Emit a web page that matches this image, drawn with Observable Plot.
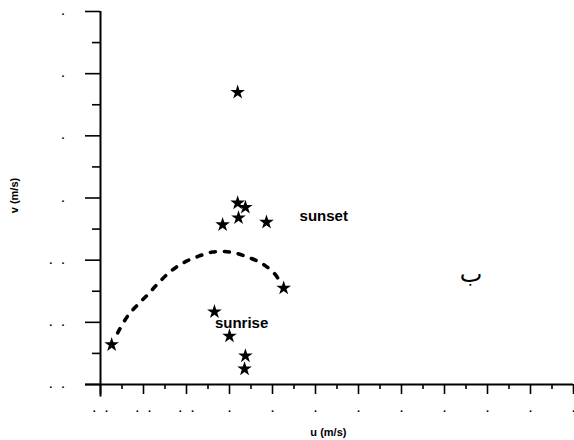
<!DOCTYPE html>
<html>
<head>
<meta charset="utf-8">
<script src="https://cdn.jsdelivr.net/npm/d3@7"></script>
<script src="https://cdn.jsdelivr.net/npm/@observablehq/plot@0.6"></script>
<style>
  html, body { margin: 0; padding: 0; background: white; }
</style>
</head>
<body>
<div id="chart"></div>
<script>
// Star observations (u, v) in m/s
const starU = [0.19, 0.19, 0.37, 0.21, -0.16, 0.86, 1.26, -0.35, 0.00, 0.37, 0.35, -2.74];
const starV = [1.70, -0.08, -0.15, -0.32, -0.43, -0.39, -1.45, -1.83, -2.22, -2.54, -2.75, -2.36];

// Dashed curve (sunrise -> sunset arc)
const curveU = [-2.60, -2.37, -2.14, -1.91, -1.67, -1.42, -1.12, -0.77, -0.40, 0.02, 0.42, 0.77, 1.05, 1.16];
const curveV = [-2.17, -1.90, -1.72, -1.56, -1.38, -1.21, -1.06, -0.95, -0.87, -0.87, -0.95, -1.06, -1.22, -1.33];

// Annotations
const noteText = ["sunset", "sunrise"];
const noteU = [1.63, -0.34];
const noteV = [-0.30, -2.01];
const letterText = ["ب"];
const letterU = [5.62];
const letterV = [-1.22];

// Ticks (labels are faded to dots in the scan)
const xTickValues = [-3, -2, -1, 0, 1, 2, 3, 4, 5, 6, 7, 8];
const xTickLabels = [".\u00a0\u00a0\u00a0.", ".\u00a0\u00a0\u00a0.", ".\u00a0\u00a0\u00a0.", ".", ".", ".", ".", ".", ".", ".", ".", "."];
const xMinorTicks = [-2.5, -1.5, -0.5, 0.5, 1.5, 2.5, 3.5, 4.5, 5.5, 6.5, 7.5];
const yTickValues = [-3, -2, -1, 0, 1, 2, 3];
const yTickLabels = [".\u00a0\u00a0\u00a0.", ".\u00a0\u00a0\u00a0.", ".\u00a0\u00a0\u00a0.", ".", ".", ".", "."];
const yMinorTicks = [-2.5, -1.5, -0.5, 0.5, 1.5, 2.5];

const xLabel = "u (m/s)";
const yLabel = "v (m/s)";

const stars = starU.map((u, i) => ({u, v: starV[i]}));
const curve = curveU.map((u, i) => ({u, v: curveV[i]}));
const notes = noteText.map((t, i) => ({t, u: noteU[i], v: noteV[i]}));
const letters = letterText.map((t, i) => ({t, u: letterU[i], v: letterV[i]}));
const xLabMap = new Map(xTickValues.map((d, i) => [d, xTickLabels[i]]));
const yLabMap = new Map(yTickValues.map((d, i) => [d, yTickLabels[i]]));

const chart = Plot.plot({
  width: 574,
  height: 440,
  marginLeft: 100,
  marginRight: 1,
  marginTop: 11,
  marginBottom: 56,
  x: {domain: [-3, 8], axis: null},
  y: {domain: [-3, 3], axis: null},
  style: {fontFamily: "'Liberation Sans', Arial, sans-serif", background: "white", color: "black"},
  marks: [
    Plot.axisY({ticks: yMinorTicks, tickSize: 8, tickFormat: () => "", label: null, strokeWidth: 1.6}),
    Plot.axisY({ticks: yTickValues, tickSize: 15, tickPadding: 21, tickFormat: d => yLabMap.get(d), label: null, fontSize: 11, fontWeight: "bold", fill: "black", strokeWidth: 1.6}),
    Plot.axisX({ticks: xMinorTicks, tickSize: 5, tickFormat: () => "", label: null, strokeWidth: 1.6}),
    Plot.axisX({ticks: xTickValues, tickSize: 10, tickPadding: 10, tickFormat: d => xLabMap.get(d), label: null, fontSize: 11, fontWeight: "bold", fill: "black", strokeWidth: 1.6}),
    Plot.ruleX([-3], {y1: -3.2, y2: 3, strokeWidth: 2}),
    Plot.ruleY([-3], {x1: -3.35, x2: 8, strokeWidth: 2}),
    Plot.line(curve, {x: "u", y: "v", curve: "catmull-rom", stroke: "black", strokeWidth: 3.6, strokeDasharray: "5,9", strokeLinecap: "round"}),
    Plot.dot(stars, {x: "u", y: "v", symbol: "star", fill: "black", stroke: "none", r: 4.6}),
    Plot.text(notes, {x: "u", y: "v", text: "t", textAnchor: "start", fontSize: 15, letterSpacing: 1, fontWeight: "bold", fill: "black"}),
    Plot.text(letters, {x: "u", y: "v", text: "t", fontSize: 24, fontFamily: "'DejaVu Sans', sans-serif", fill: "black"}),
    Plot.text([xLabel], {x: 2.30, y: -3.77, text: d => d, fontSize: 11, fontWeight: "bold"}),
    Plot.text([yLabel], {x: -5.0, y: 0.04, text: d => d, rotate: -90, fontSize: 11, fontWeight: "bold"})
  ]
});
document.getElementById("chart").appendChild(chart);
</script>
</body>
</html>
